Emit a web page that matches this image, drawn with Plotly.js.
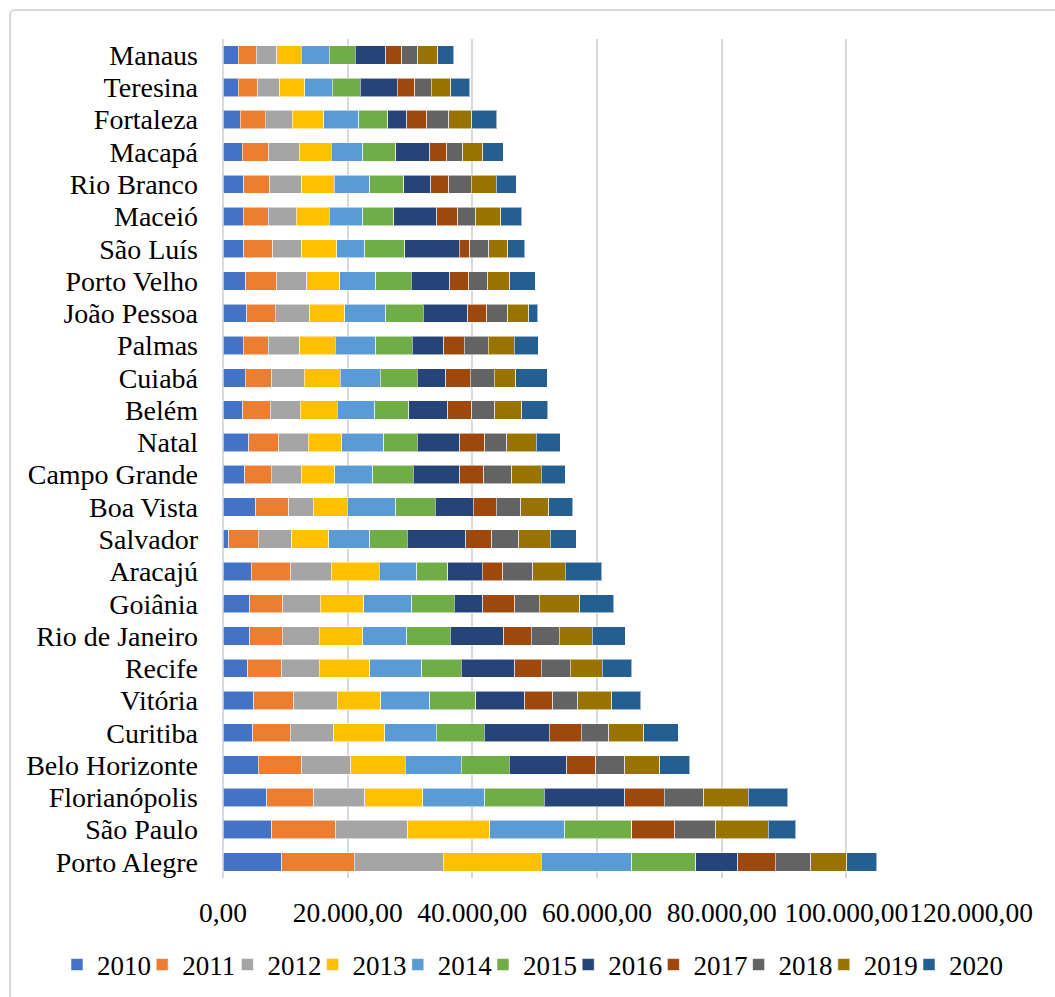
<!DOCTYPE html>
<html>
<head>
<meta charset="utf-8">
<script src="https://cdn.plot.ly/plotly-3.0.1.min.js"></script>
<style>
  html, body { margin:0; padding:0; background:#fff; overflow:hidden; width:1055px; height:997px; }
  #frame { position:absolute; left:9px; top:9px; width:1100px; height:1050px; border:2px solid #d9d9d9; border-radius:6px; box-sizing:border-box; }
  #chart { position:absolute; left:0; top:0; width:1055px; height:997px; }
</style>
</head>
<body>
<div id="frame"></div>
<div id="chart"></div>
<script>
const cities = ["Manaus","Teresina","Fortaleza","Macapá","Rio Branco","Maceió","São Luís","Porto Velho","João Pessoa","Palmas","Cuiabá","Belém","Natal","Campo Grande","Boa Vista","Salvador","Aracajú","Goiânia","Rio de Janeiro","Recife","Vitória","Curitiba","Belo Horizonte","Florianópolis","São Paulo","Porto Alegre"];
const years = ["2010","2011","2012","2013","2014","2015","2016","2017","2018","2019","2020"];
const v2010 = [2450,2450,2770,3090,3360,3250,3360,3680,3840,3250,3570,3150,4160,3520,5280,960,4530,4320,4320,4000,4940,4800,5690,6990,7810,9390];
const v2011 = [2880,3150,4000,4270,4160,4000,4640,4960,4530,4000,4210,4430,4800,4210,5230,4690,6350,5280,5170,5440,6370,5960,6920,7540,10280,11650];
const v2012 = [3310,3520,4320,4850,5120,4480,4640,4800,5550,5070,5230,4800,4690,4800,3950,5390,6450,5970,5920,5970,6990,6990,7880,8230,11580,14330];
const v2013 = [3890,4000,5070,5120,5230,5280,5600,5280,5650,5710,5760,5970,5440,5390,5440,5920,7730,7040,6990,8110,6990,8230,8770,9250,13090,15700];
const v2014 = [4480,4370,5600,5120,5710,5440,4530,5810,6560,6510,6450,6030,6720,6130,7840,6610,6030,7630,7090,8370,7880,8230,8980,10010,12060,14530];
const v2015 = [4210,4530,4690,5230,5390,4960,6350,5650,6030,5810,5970,5390,5390,6450,6350,5970,4960,6880,6990,6350,7400,7680,7680,9530,10760,10210];
const v2016 = [4910,5970,3040,5490,4370,6880,8800,6190,7090,5070,4530,6290,6770,7470,6080,9390,5550,4530,8590,8530,7810,10420,9250,12890,0,6790];
const v2017 = [2560,2770,3200,2720,2880,3360,1650,3040,3090,3310,3950,3840,4000,3840,3630,4160,3250,5120,4370,4320,4520,5140,4660,6310,6920,5960];
const v2018 = [2560,2670,3520,2560,3630,2880,3040,3040,3310,3840,3840,3730,3520,4480,3950,4320,4850,3950,4530,4640,4040,4460,4660,6370,6510,5760];
const v2019 = [3200,3090,3730,3250,4000,4000,3040,3570,3360,4160,3470,4320,4800,4750,4480,5120,5170,6510,5280,5120,5420,5550,5550,7130,8430,5760];
const v2020 = [2560,3040,4000,3250,3200,3360,2720,4050,1490,3840,5070,4110,3790,3840,3890,4160,5870,5490,5280,4750,4660,5550,4870,6370,4460,4800];
const xTicks = [0,20000,40000,60000,80000,100000,120000];

const series = [v2010,v2011,v2012,v2013,v2014,v2015,v2016,v2017,v2018,v2019,v2020];
const colors = ["#4472C4","#ED7D31","#A5A5A5","#FFC000","#5B9BD5","#70AD47","#264478","#9E480E","#636363","#997300","#255E91"];

const FONT = '"Liberation Serif", "Times New Roman", serif';
const W = 1055, H = 997;

const legendId = i => (i === 0 ? 'legend' : 'legend' + (i + 1));

const data = series.map((vals, i) => ({
  type: 'bar',
  orientation: 'h',
  name: years[i],
  x: vals,
  y: cities,
  legend: legendId(i),
  marker: { color: colors[i], line: { color: 'rgba(255,255,255,0.55)', width: 1 } },
  hoverinfo: 'skip'
}));

const layout = {
  width: W,
  height: H,
  barmode: 'stack',
  bargap: 0.43,
  separators: ',.',
  paper_bgcolor: 'rgba(0,0,0,0)',
  plot_bgcolor: 'rgba(0,0,0,0)',
  font: { family: FONT, size: 27, color: '#000' },
  margin: { l: 223, r: 84, t: 39, b: 119 },
  xaxis: {
    range: [0, 120000],
    tickmode: 'array',
    tickvals: xTicks,
    tickformat: ',.2f',
    tickangle: 0,
    showgrid: true,
    gridcolor: '#d9d9d9',
    gridwidth: 2,
    zeroline: true,
    zerolinecolor: '#d9d9d9',
    zerolinewidth: 2,
    showline: false,
    ticks: '',
    ticklabelstandoff: 15,
    tickfont: { family: FONT, size: 27.5, color: '#000' },
    fixedrange: true
  },
  yaxis: {
    type: 'category',
    autorange: 'reversed',
    tickmode: 'array',
    tickvals: cities,
    ticktext: cities,
    tickangle: 0,
    showgrid: false,
    zeroline: false,
    showline: false,
    ticks: '',
    ticklabelstandoff: 24,
    tickfont: { family: FONT, size: 28, color: '#000' },
    fixedrange: true
  },
  showlegend: true,
  hovermode: false
};

// one single-entry legend per year, laid out in a row at the bottom
const legendStep = 85.2;
const firstMarker = 80;
years.forEach((yr, i) => {
  const markerCenter = firstMarker - 4 + legendStep * i;
  layout[legendId(i)] = {
    orientation: 'h',
    xref: 'container',
    yref: 'container',
    x: (markerCenter - 19) / W,
    xanchor: 'left',
    y: (H - 965) / H,
    yanchor: 'middle',
    font: { family: FONT, size: 27, color: '#000' },
    bgcolor: 'rgba(0,0,0,0)'
  };
});

Plotly.newPlot('chart', data, layout, { displayModeBar: false, staticPlot: true });
</script>
</body>
</html>
